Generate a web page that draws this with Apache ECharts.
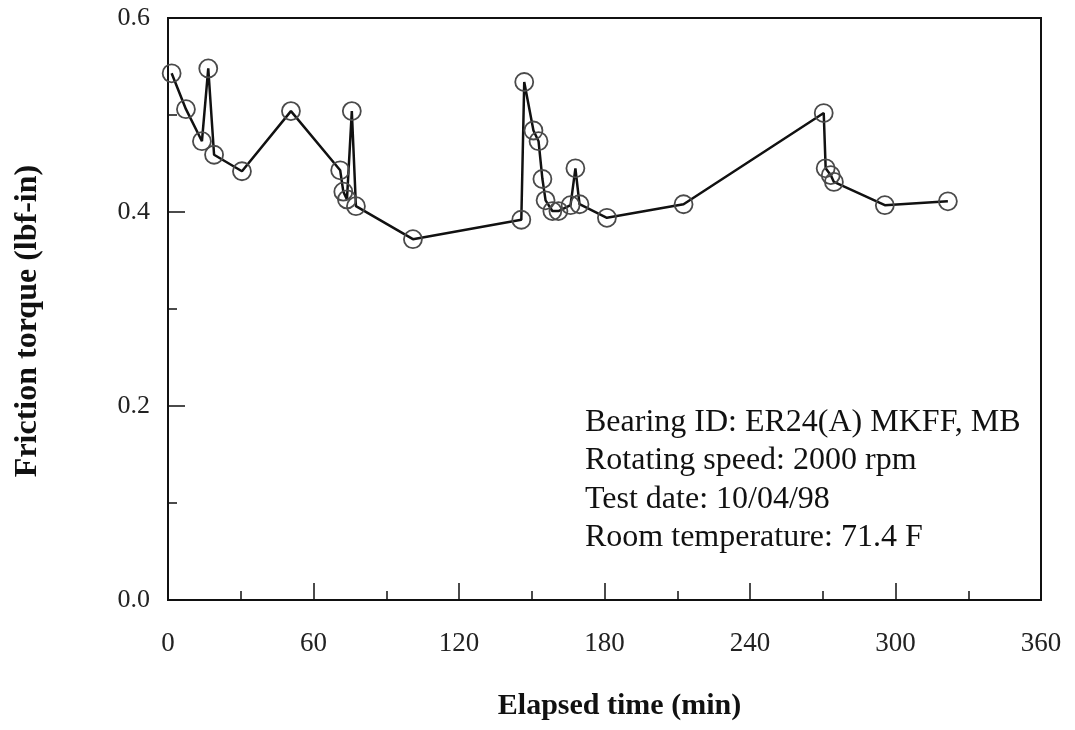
<!DOCTYPE html>
<html>
<head>
<meta charset="utf-8">
<script src="https://cdn.jsdelivr.net/npm/echarts@6/dist/echarts.min.js"></script>
<style>
  html, body { margin: 0; padding: 0; background: #fff; }
  #chart { width: 1075px; height: 730px; }
</style>
</head>
<body>
<div id="chart"></div>
<script>
// elapsed time (min)
const times = [1.5, 7.4, 14, 16.6, 19, 30.5, 50.7, 71, 72.3, 73.8, 75.8, 77.5,
  101, 145.7, 146.9, 150.7, 152.8, 154.4, 155.7, 158.5, 161, 166, 168, 169.7,
  181, 212.6, 270.4, 271.2, 273.3, 274.6, 295.6, 321.6];
// friction torque (lbf-in)
const torque = [0.543, 0.506, 0.473, 0.548, 0.459, 0.442, 0.504, 0.443, 0.421, 0.413, 0.504, 0.406,
  0.372, 0.392, 0.534, 0.484, 0.473, 0.434, 0.412, 0.401, 0.401, 0.407, 0.445, 0.408,
  0.394, 0.408, 0.502, 0.445, 0.438, 0.431, 0.407, 0.411];

const notes = [
  "Bearing ID: ER24(A) MKFF, MB",
  "Rotating speed: 2000 rpm",
  "Test date: 10/04/98",
  "Room temperature: 71.4 F"
];

const serif = "'Liberation Serif', 'DejaVu Serif', serif";

const chart = echarts.init(document.getElementById("chart"));

chart.setOption({
  backgroundColor: "#fff",
  animation: false,

  grid: {
    left: 168, right: 34, top: 18, bottom: 130,
    show: true,
    borderColor: "#111",
    borderWidth: 2
  },

  xAxis: {
    type: "value",
    min: 0, max: 360, interval: 60,
    name: "Elapsed time (min)",
    nameLocation: "middle",
    nameGap: 91,
    nameTextStyle: {
      fontFamily: serif, fontWeight: "bold", fontSize: 30, color: "#111",
      padding: [0, 0, 0, 30]
    },
    axisLine: { lineStyle: { color: "#111", width: 2 } },
    axisTick: { inside: true, length: 17, lineStyle: { color: "#111", width: 1.5 } },
    minorTick: { show: true, splitNumber: 2, length: 9, lineStyle: { color: "#111", width: 1.5 } },
    splitLine: { show: false },
    axisLabel: { fontFamily: serif, fontSize: 27, color: "#222", margin: 30 }
  },

  yAxis: {
    type: "value",
    min: 0, max: 0.6, interval: 0.2,
    name: "Friction torque (lbf-in)",
    nameLocation: "middle",
    nameGap: 124,
    nameTextStyle: {
      fontFamily: serif, fontWeight: "bold", fontSize: 32, color: "#111",
      padding: [0, 24, 0, 0]
    },
    axisLine: { lineStyle: { color: "#111", width: 2 } },
    axisTick: { inside: true, length: 17, lineStyle: { color: "#111", width: 1.5 } },
    minorTick: { show: true, splitNumber: 2, length: 9, lineStyle: { color: "#111", width: 1.5 } },
    splitLine: { show: false },
    axisLabel: {
      fontFamily: serif, fontSize: 26, color: "#222", margin: 18,
      formatter: v => v.toFixed(1)
    }
  },

  graphic: [
    {
      type: "text",
      left: 585,
      top: 403,
      style: {
        text: notes.join("\n"),
        font: "32px " + serif,
        lineHeight: 38.5,
        fill: "#111"
      }
    }
  ],

  series: [
    {
      type: "line",
      data: times.map((t, i) => [t, torque[i]]),
      symbol: "circle",
      symbolSize: 18,
      lineStyle: { color: "#111", width: 2.5 },
      itemStyle: { color: "transparent", borderColor: "#4a4a4a", borderWidth: 1.8 }
    }
  ]
});

window.addEventListener("resize", () => chart.resize());
</script>
</body>
</html>
